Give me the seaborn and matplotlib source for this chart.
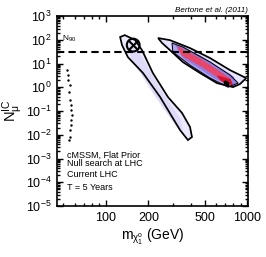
import numpy as np
import matplotlib
matplotlib.use('Agg')
import matplotlib.pyplot as plt
import matplotlib.ticker as mticker
import seaborn as sns

# 外层轮廓 (低质量带), 单位: GeV, 事件数
lower_outer_x = [126, 136, 161, 180, 215, 275, 346, 394, 407, 381, 335, 242, 183, 143, 130]
lower_outer_y = [131, 158, 97, 37, 4.0, 0.39, 0.083, 0.0214, 0.0081, 0.006, 0.0158, 0.39, 4.0, 18.7, 60]
lower_inner_x = [143, 169, 242, 335, 346, 313, 223, 155]
lower_inner_y = [60, 30.5, 0.77, 0.042, 0.016, 0.026, 0.47, 14]

# 高质量带
upper_outer_x = [234, 284, 394, 547, 757, 986, 890, 795, 612, 464, 351, 284, 250]
upper_outer_y = [119, 97, 45, 17, 5.3, 2.45, 1.37, 1.02, 1.5, 4.0, 11.5, 37, 73]
upper_inner_x = [294, 351, 547, 757, 863, 733, 547, 394, 298]
upper_inner_y = [73, 49.5, 11.6, 3.3, 1.51, 1.02, 2.45, 8.6, 30.5]
upper_mid_x = [313, 464, 593, 796, 835, 593, 464, 357]
upper_mid_y = [60, 20.7, 7.9, 2.7, 1.13, 2.45, 6.5, 17]
upper_core_x = [324, 464, 593, 757, 783, 593, 464, 346]
upper_core_y = [49.5, 15.5, 5.9, 2.2, 1.24, 3.3, 8.6, 22.8]
upper_peak_x = [620, 757, 783, 660]
upper_peak_y = [2.9, 2.1, 1.3, 1.9]
peak_x = [700, 725]
peak_y = [1.7, 1.55]

# 低质量散点
sparse_x = [52.8, 53.7, 53.7, 55.6, 54.7, 55.6, 56.5, 56.5, 57.4, 56.5, 56.5, 55.6, 55.6, 54.7]
sparse_y = [5.3, 3.3, 2.0, 1.24, 0.63, 0.29, 0.18, 0.11, 0.068, 0.042, 0.026, 0.016, 0.008, 0.006]

# 基准点
bench_x = [156]
bench_y = [60]
n90 = 31

x_major = [100, 200, 500, 1000]
x_minor = [50, 60, 70, 80, 90, 300, 400, 600, 700, 800, 900]
info_lines = ['cMSSM, Flat Prior', 'Null search at LHC', 'Current LHC', 'T = 5 Years']
info_pos = [0.268, 0.226, 0.168, 0.100]

sns.set_style('ticks', {'axes.edgecolor': 'black', 'text.color': 'black',
                        'axes.labelcolor': 'black', 'xtick.color': 'black',
                        'ytick.color': 'black'})
plt.rcParams['font.family'] = ['Liberation Sans', 'DejaVu Sans']
plt.rcParams['mathtext.fontset'] = 'custom'
plt.rcParams['mathtext.rm'] = 'Liberation Sans'
plt.rcParams['mathtext.it'] = 'Liberation Sans:italic'
plt.rcParams['mathtext.default'] = 'regular'

fig = plt.figure(figsize=(2.66, 2.57), dpi=100)
ax = fig.add_axes([0.2143, 0.1984, 0.718, 0.739])
ax.set_xscale('log')
ax.set_yscale('log')
ax.set_xlim(45, 1015)
ax.set_ylim(1e-5, 1e3)

# 低质量带
ax.fill(lower_outer_x, lower_outer_y, color='#ebe9fb', zorder=1)
ax.fill(lower_inner_x, lower_inner_y, color='#dedaf7', zorder=1)
ax.fill(lower_outer_x, lower_outer_y, facecolor='none', edgecolor='black', lw=1.25, zorder=3)

# 高质量带
ax.fill(upper_outer_x, upper_outer_y, color='#e6e3fa', zorder=1)
ax.fill(upper_inner_x, upper_inner_y, color='#aea4f0', zorder=1)
ax.fill(upper_mid_x, upper_mid_y, color='#8f7fe2', zorder=2)
ax.fill(upper_core_x, upper_core_y, color='#e8476c', zorder=2)
ax.fill(upper_peak_x, upper_peak_y, color='#d8142e', zorder=2)
ax.fill(upper_outer_x, upper_outer_y, facecolor='none', edgecolor='black', lw=1.25, zorder=3)
ax.fill(upper_inner_x, upper_inner_y, facecolor='none', edgecolor='black', lw=0.7, zorder=3)
sns.scatterplot(x=peak_x, y=peak_y, color='black', s=8, linewidth=0, ax=ax, zorder=4)

sns.scatterplot(x=sparse_x, y=sparse_y, color='black', s=3, linewidth=0, ax=ax, zorder=4)

ax.axhline(n90, color='black', lw=1.5, dashes=(3.5, 2), zorder=5)
ax.text(48.5, 95, r'N$_{90}$', fontsize=6, va='baseline', ha='left')

sns.scatterplot(x=bench_x, y=bench_y, marker='o', s=85, facecolor='none',
                edgecolor='black', linewidth=1.5, ax=ax, zorder=6)
sns.scatterplot(x=bench_x, y=bench_y, marker='x', s=45, color='black',
                linewidth=1.5, ax=ax, zorder=6)

for txt, yy in zip(info_lines, info_pos):
    ax.text(0.05, yy, txt, transform=ax.transAxes, fontsize=6.5, va='center')

ax.text(1.0, 1.032, 'Bertone et al. (2011)', transform=ax.transAxes,
        fontsize=5.8, style='italic', ha='right', va='center')

ax.xaxis.set_major_locator(mticker.FixedLocator(x_major))
ax.xaxis.set_minor_locator(mticker.FixedLocator(x_minor))
ax.xaxis.set_major_formatter(mticker.FixedFormatter([str(v) for v in x_major]))
ax.xaxis.set_minor_formatter(mticker.NullFormatter())
ax.yaxis.set_major_locator(mticker.LogLocator(base=10, numticks=20))
ax.yaxis.set_minor_locator(mticker.LogLocator(base=10, subs=np.arange(2, 10), numticks=20))

ax.tick_params(which='both', direction='in', top=True, right=True, width=1.0)
ax.tick_params(which='major', length=4, labelsize=9, pad=4)
ax.tick_params(which='minor', length=2)
for s in ax.spines.values():
    s.set_linewidth(1.2)

ax.set_xlabel(r'm$_{\chi_1^o}$ (GeV)', fontsize=10, labelpad=2)
ax.set_ylabel(r'N$_\mu^{IC}$', fontsize=10.5)
ax.yaxis.set_label_coords(-0.165, 0.5)

fig.savefig('out.png', dpi=100)
